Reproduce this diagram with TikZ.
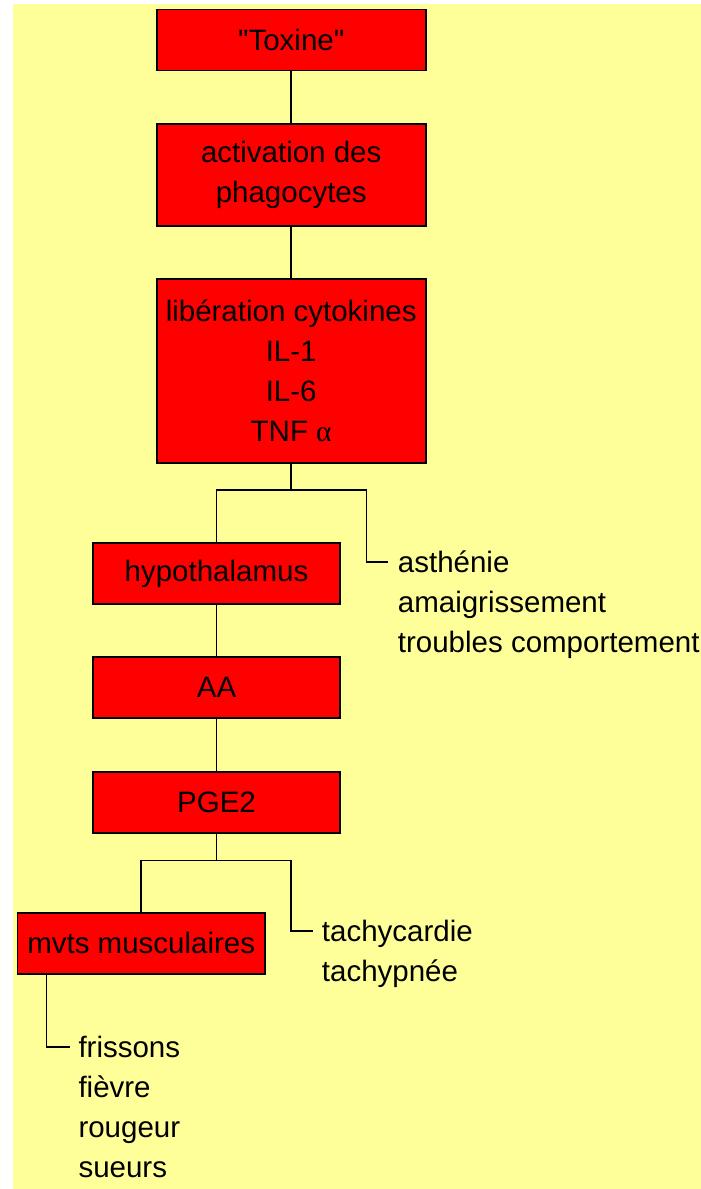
\documentclass[tikz,border=0pt]{standalone}
\usepackage{fontspec}
\setmainfont{Liberation Sans}[Ligatures=TeXOff]
\newfontfamily\greekserif{Liberation Serif}
\definecolor{bgyellow}{RGB}{255,255,153}
\definecolor{boxred}{RGB}{255,0,0}
\begin{document}
\begin{tikzpicture}[x=1pt,y=1pt]
\tikzstyle{every node}+=[inner sep=0pt, font=\fontsize{29.5}{40}\selectfont]
\tikzstyle{redbox}=[draw=black, fill=boxred, line width=1.8pt, align=center, minimum height=61pt]
\tikzstyle{link}=[black, line width=1.5pt]
\useasboundingbox (0,0) rectangle (701,-1189);
\fill [bgyellow] (12.7,-4) rectangle (701,-1189);
\node [redbox, minimum width=269pt] (toxine) at (291.2,-40) {"Toxine"};
\node [redbox, minimum width=269pt, minimum height=102pt] (phago) at (291.2,-175) {activation des\\phagocytes};
\node [redbox, minimum width=269pt, minimum height=184pt] (cyto) at (291.2,-371) {libération cytokines\\IL-1\\IL-6\\TNF {\greekserif α}};
\node [redbox, minimum width=247.5pt] (hypo) at (216.5,-573.5) {hypothalamus};
\node [redbox, minimum width=247.5pt] (aa) at (216.5,-687.5) {AA};
\node [redbox, minimum width=247.5pt] (pge) at (216.5,-802.5) {PGE2};
\node [redbox, minimum width=247.5pt] (mvts) at (141.2,-943.3) {mvts musculaires};
\node [anchor=base west, align=left] (signs1) at (397.7,-652) {asthénie\\amaigrissement\\troubles comportement};
\node [anchor=base west, align=left] (signs2) at (321.7,-981) {tachycardie\\tachypnée};
\node [anchor=base west, align=left] (signs3) at (78.3,-1177) {frissons\\fièvre\\rougeur\\sueurs};
\coordinate (fork1) at (291.2,-490);
\coordinate (bend1) at (366.7,-562);
\coordinate (end1) at (388,-562);
\coordinate (fork2) at (216.5,-860.7);
\coordinate (bend2) at (291,-931);
\coordinate (end2) at (313,-931);
\coordinate (end3) at (70,-1047);
\draw [link] (toxine.south) -- (phago.north);
\draw [link] (phago.south) -- (cyto.north);
\draw [link] (cyto.south) -- (fork1);
\draw [link] (hypo.north) |- (fork1) -| (bend1) -- (end1);
\draw [link] (hypo.south) -- (aa.north);
\draw [link] (aa.south) -- (pge.north);
\draw [link] (pge.south) -- (fork2);
\draw [link] (mvts.north) |- (fork2) -| (bend2) -- (end2);
\draw [link] ([xshift=30pt]mvts.south west) |- (end3);
\end{tikzpicture}
\end{document}
